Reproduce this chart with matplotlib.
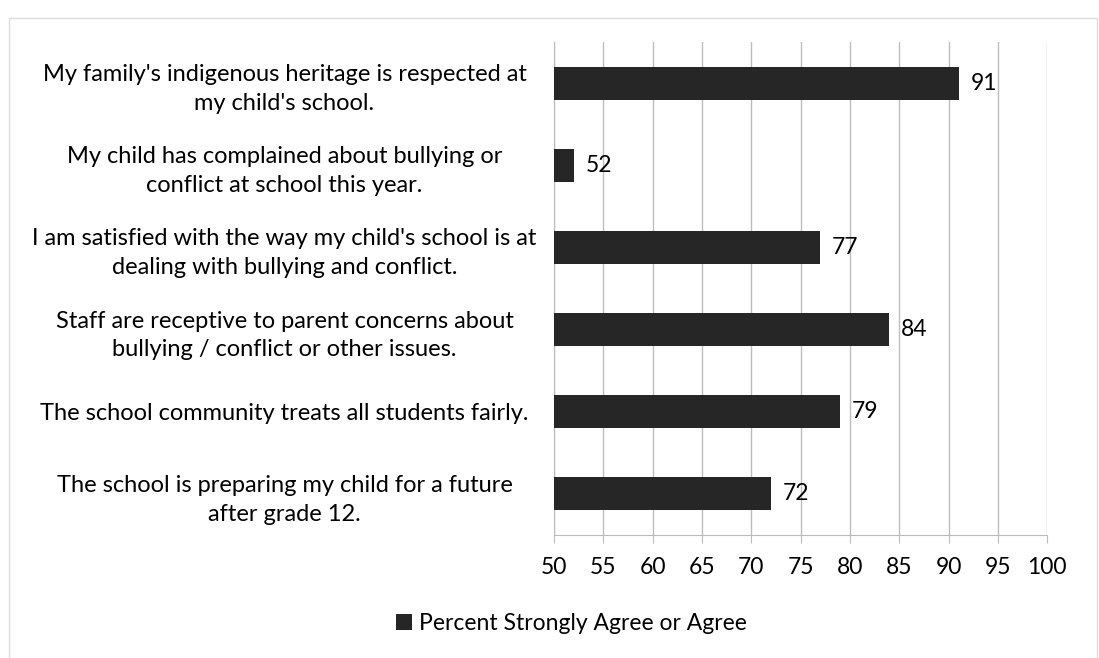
import matplotlib.pyplot as plt
import numpy as np

# survey items, top to bottom
items = [
    "My family's indigenous heritage is respected at\nmy child's school.",
    "My child has complained about bullying or\nconflict at school this year.",
    "I am satisfied with the way my child's school is at\ndealing with bullying and conflict.",
    "Staff are receptive to parent concerns about\nbullying / conflict or other issues.",
    "The school community treats all students fairly.",
    "The school is preparing my child for a future\nafter grade 12.",
]
percent = [91, 52, 77, 84, 79, 72]
series_name = "Percent Strongly Agree or Agree"
ticks = list(range(50, 101, 5))

plt.rcParams['font.family'] = ['Lato', 'DejaVu Sans']

fig = plt.figure(figsize=(10.99, 6.58), dpi=100)
ax = fig.add_axes([0.504, 0.187, 0.449, 0.749])

y = np.arange(len(items))
bars = ax.barh(y, percent, height=0.4, left=0, color='#262626', label=series_name, zorder=3)
ax.set_xlim(50, 100)
ax.set_ylim(len(items) - 0.5, -0.5)
ax.set_xticks(ticks)
ax.set_yticks(y)
ax.set_yticklabels(items, fontsize=17, ha='center', linespacing=1.45)
ax.tick_params(axis='y', length=0, pad=194)
ax.tick_params(axis='x', labelsize=16.5, length=6, color='#bbbbbb', pad=10)

ax.grid(axis='x', color='#bdbdbd', linewidth=1, zorder=0)
for s in ['top', 'right']:
    ax.spines[s].set_visible(False)
ax.spines['left'].set_color('#bbbbbb')
ax.spines['bottom'].set_color('#bbbbbb')

for yi, v in zip(y, percent):
    ax.text(v + 1.2, yi, str(v), va='center', ha='left', fontsize=16.5, zorder=4)

fig.legend(handles=[bars], labels=[series_name], loc='center', bbox_to_anchor=(0.52, 0.052),
           frameon=False, fontsize=16.5, handlelength=0.7, handleheight=0.7, handletextpad=0.3)

# outer chart border
fig.add_artist(plt.Rectangle((0.008, -0.01), 0.99, 0.982, transform=fig.transFigure,
                             fill=False, edgecolor='#dddddd', linewidth=1))

fig.savefig('out.png', dpi=100)
